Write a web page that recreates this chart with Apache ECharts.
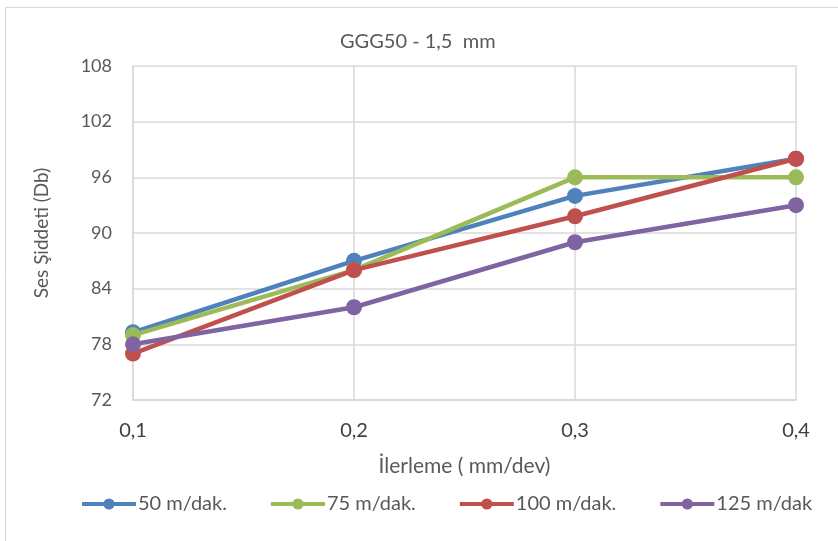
<!DOCTYPE html>
<html>
<head>
<meta charset="utf-8">
<script src="https://cdn.jsdelivr.net/npm/echarts@6/dist/echarts.min.js"></script>
<style>
  html, body { margin: 0; padding: 0; background: #fff; }
  #chart { width: 838px; height: 541px; }
</style>
</head>
<body>
<div id="chart"></div>
<script>
  var feeds = ['0,1', '0,2', '0,3', '0,4']
  var yTicks = [72, 78, 84, 90, 96, 102, 108]
  var s50 = [79.3, 87, 94, 98]
  var s75 = [79, 86, 96, 96]
  var s100 = [77, 86, 91.8, 98]
  var s125 = [78, 82, 89, 93]

  var seriesNames = ['50 m/dak.', '75 m/dak.', '100 m/dak.', '125 m/dak']
  var seriesData = [s50, s75, s100, s125]
  var colors = ['#4f81bd', '#9bbb59', '#c0504d', '#8064a2']

  var font = 'Lato, "Open Sans", sans-serif'
  var chart = echarts.init(document.getElementById('chart'))

  chart.setOption({
    animation: false,
    backgroundColor: '#fff',
    graphic: [
      {
        type: 'rect',
        shape: { x: 5.5, y: 7.5, width: 840, height: 540 },
        style: { fill: 'none', stroke: '#d9d9d9', lineWidth: 1 },
        silent: true
      }
    ],
    title: {
      text: 'GGG50 - 1,5  mm',
      left: 335,
      top: 27,
      textStyle: { fontFamily: font, fontSize: 20, fontWeight: 'normal', color: '#595959' }
    },
    legend: {
      bottom: 22,
      left: 75,
      itemWidth: 54,
      itemHeight: 14,
      itemGap: 42,
      lineStyle: { width: 4 },
      textStyle: { fontFamily: font, fontSize: 20, color: '#595959', padding: [0, 0, 0, -3] },
      data: seriesNames
    },
    grid: { left: 133, right: 42, top: 66, bottom: 141 },
    xAxis: {
      type: 'category',
      data: feeds,
      boundaryGap: false,
      name: 'İlerleme ( mm/dev)',
      nameLocation: 'middle',
      nameGap: 56,
      nameTextStyle: { fontFamily: font, fontSize: 21, color: '#595959' },
      axisLine: { lineStyle: { color: '#d9d9d9', width: 1.5 } },
      axisTick: { show: false },
      axisLabel: { fontFamily: font, fontSize: 20, color: '#404040', margin: 21 },
      splitLine: { show: true, lineStyle: { color: '#d9d9d9', width: 1.5 } }
    },
    yAxis: {
      type: 'value',
      min: yTicks[0],
      max: yTicks[yTicks.length - 1],
      interval: 6,
      name: 'Ses Şiddeti (Db)',
      nameLocation: 'middle',
      nameGap: 82,
      nameTextStyle: { fontFamily: font, fontSize: 19, color: '#595959' },
      axisLine: { show: true, lineStyle: { color: '#d9d9d9', width: 1.5 } },
      axisTick: { show: false },
      axisLabel: { fontFamily: font, fontSize: 18, color: '#595959', margin: 21 },
      splitLine: { lineStyle: { color: '#d9d9d9', width: 1.5 } }
    },
    series: seriesData.map(function (d, i) {
      return {
        name: seriesNames[i],
        type: 'line',
        data: d,
        color: colors[i],
        symbol: 'circle',
        symbolSize: 16,
        lineStyle: { width: 4.5 },
        z: 2 + i
      }
    })
  })
</script>
</body>
</html>
